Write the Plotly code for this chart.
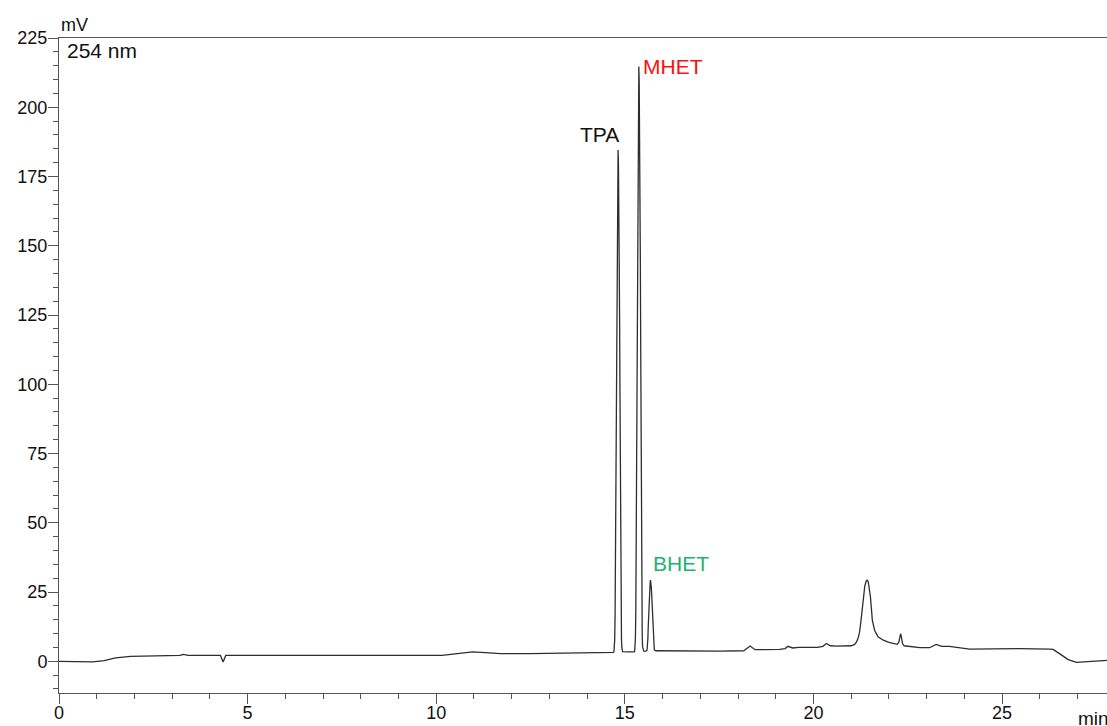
import plotly.graph_objects as go

# HPLC chromatogram, UV detection at 254 nm.
# Each segment: retention time (min) and detector signal (mV).
base_early_t = [0.00, 0.50, 0.90, 1.20, 1.50, 1.90, 2.50, 3.20, 3.30, 3.42, 4.28, 4.35, 4.42,
                10.15, 10.50, 10.96, 11.30, 11.70, 12.50, 13.50, 14.60]
base_early_mv = [0.0, -0.1, -0.25, 0.2, 1.2, 1.8, 2.0, 2.1, 2.5, 2.1, 2.1, -0.25, 2.1,
                 2.1, 2.7, 3.4, 3.1, 2.8, 2.8, 2.9, 3.1]

tpa_t = [14.70, 14.71, 14.72, 14.73, 14.74, 14.75, 14.76, 14.77, 14.78, 14.79, 14.80, 14.81,
         14.82, 14.83, 14.84, 14.85, 14.86, 14.87, 14.88, 14.89, 14.90, 14.91, 14.92, 14.93,
         14.94, 15.10, 15.25]
tpa_mv = [3.2, 3.5, 4.6, 7.6, 15.8, 35.8, 66.6, 97.5, 124.7, 148.3, 166.5, 179.2,
          184.6, 179.2, 166.5, 148.3, 124.7, 97.5, 66.6, 35.8, 16.1, 7.9, 4.9, 3.8,
          3.5, 3.4, 3.4]

mhet_t = [15.26, 15.27, 15.28, 15.29, 15.30, 15.31, 15.32, 15.33, 15.34, 15.35, 15.36,
          15.37, 15.38, 15.39, 15.40, 15.41, 15.42, 15.43, 15.44, 15.45, 15.46, 15.47,
          15.48, 15.50, 15.53, 15.56]
mhet_mv = [3.8, 5.1, 8.7, 18.2, 41.4, 77.4, 113.3, 145.0, 172.4, 193.6, 208.4,
           214.7, 208.4, 193.6, 172.4, 145.0, 113.3, 77.4, 41.4, 18.2, 8.7, 5.1,
           3.9, 3.7, 3.6, 3.7]

bhet_t = [15.58, 15.59, 15.60, 15.61, 15.62, 15.63, 15.64, 15.65, 15.66, 15.67,
          15.68, 15.69, 15.70, 15.71, 15.72, 15.73, 15.74, 15.75, 15.76, 15.77,
          15.78, 15.82]
bhet_mv = [3.9, 4.3, 5.5, 8.3, 12.7, 17.0, 20.9, 24.2, 26.7, 28.5,
           29.3, 28.5, 26.7, 24.4, 21.2, 17.4, 13.2, 9.0, 6.2, 4.7,
           4.1, 3.8]

base_mid_t = [16.50, 17.50, 18.15, 18.32, 18.45, 19.10, 19.25, 19.32, 19.45, 19.60, 20.10,
              20.25, 20.34, 20.45, 20.60, 21.00]
base_mid_mv = [3.7, 3.7, 3.8, 5.5, 4.2, 4.3, 4.6, 5.4, 4.8, 5.0, 5.0,
               5.4, 6.4, 5.6, 5.5, 5.6]

late_t = [21.09, 21.14, 21.18, 21.22, 21.25, 21.29, 21.32, 21.36, 21.40, 21.42, 21.45, 21.48,
          21.51, 21.56, 21.62, 21.71, 21.85, 22.00, 22.11, 22.22, 22.26, 22.29, 22.31, 22.33,
          22.36, 22.40, 22.60, 22.82, 23.08, 23.25, 23.40, 23.60, 24.14, 25.00, 25.46, 26.26,
          26.35, 26.55, 26.75, 26.97, 27.30, 27.78]
late_mv = [6.1, 7.0, 8.2, 10.5, 13.6, 18.5, 23.2, 27.2, 29.0, 29.3, 28.8, 26.5,
           23.2, 14.8, 11.2, 8.8, 7.6, 6.8, 6.4, 6.1, 6.8, 9.0, 10.0, 8.8,
           6.4, 5.6, 5.2, 4.9, 4.9, 6.1, 5.4, 5.4, 4.4, 4.6, 4.6, 4.4,
           4.3, 2.5, 0.6, -0.4, -0.2, 0.3]

segments = [(base_early_t, base_early_mv), (tpa_t, tpa_mv), (mhet_t, mhet_mv),
            (bhet_t, bhet_mv), (base_mid_t, base_mid_mv), (late_t, late_mv)]
time_min, signal_mv = [], []
for ts, vs in segments:
    assert len(ts) == len(vs)
    time_min += ts
    signal_mv += vs

# Identified peaks
peak_names = ["TPA", "MHET", "BHET"]
peak_times = [14.82, 15.37, 15.68]
peak_tops = [184.6, 214.7, 29.3]
peak_colors = ["#111111", "#ff1010", "#1db36e"]
peak_xanchor = ["right", "left", "left"]
peak_xshift = [3, 2, 0]
peak_yshift = [15, 0, 17]

x_ticks = [0, 5, 10, 15, 20, 25]
y_ticks = [0, 25, 50, 75, 100, 125, 150, 175, 200, 225]

axis_color = "#555555"
font_family = "Liberation Sans, Arial, sans-serif"

fig = go.Figure()
fig.add_trace(go.Scatter(
    x=time_min, y=signal_mv, mode="lines",
    line=dict(color="#2e2e2e", width=1.3),
    hoverinfo="x+y", showlegend=False,
))

annotations = []
for name, t, top, col, xa, xs, ys in zip(peak_names, peak_times, peak_tops,
                                         peak_colors, peak_xanchor, peak_xshift, peak_yshift):
    annotations.append(dict(
        x=t, y=top, xref="x", yref="y", text=name, showarrow=False,
        xanchor=xa, yanchor="middle", xshift=xs, yshift=ys,
        font=dict(family=font_family, size=21, color=col),
    ))

annotations += [
    dict(x=0, y=1, xref="paper", yref="paper", text="mV", showarrow=False,
         xanchor="left", yanchor="bottom", xshift=0, yshift=1,
         font=dict(family=font_family, size=18, color="#111111")),
    dict(x=0, y=1, xref="paper", yref="paper", text="254 nm", showarrow=False,
         xanchor="left", yanchor="top", xshift=6, yshift=1,
         font=dict(family=font_family, size=21, color="#111111")),
    dict(x=0.9705, y=0, xref="paper", yref="paper", text="min", showarrow=False,
         xanchor="left", yanchor="middle", xshift=0, yshift=-25,
         font=dict(family=font_family, size=19, color="#111111")),
]

fig.update_layout(
    width=1107, height=726,
    margin=dict(l=59, r=0, t=38, b=33, autoexpand=False),
    paper_bgcolor="white", plot_bgcolor="white",
    font=dict(family=font_family, size=18, color="#111111"),
    annotations=annotations,
    xaxis=dict(
        range=[0, 27.78], tickvals=x_ticks, ticktext=[str(v) for v in x_ticks],
        automargin=False, showgrid=False, zeroline=False,
        showline=True, linecolor=axis_color, linewidth=1, mirror=True,
        ticks="outside", ticklen=10, tickwidth=1, tickcolor=axis_color,
        ticklabelstandoff=-7,
        minor=dict(dtick=1, tick0=0, ticks="outside", ticklen=5, tickcolor=axis_color, showgrid=False),
        tickfont=dict(family=font_family, size=18, color="#111111"),
    ),
    yaxis=dict(
        range=[-11.45, 225], tickvals=y_ticks, ticktext=[str(v) for v in y_ticks],
        automargin=False, showgrid=False, zeroline=False,
        showline=True, linecolor=axis_color, linewidth=1,
        ticks="outside", ticklen=10, tickwidth=1, tickcolor=axis_color,
        ticklabelstandoff=-3,
        minor=dict(dtick=5, tick0=0, ticks="outside", ticklen=5, tickcolor=axis_color, showgrid=False),
        tickfont=dict(family=font_family, size=18, color="#111111"),
    ),
)

fig.write_html("out.html")
